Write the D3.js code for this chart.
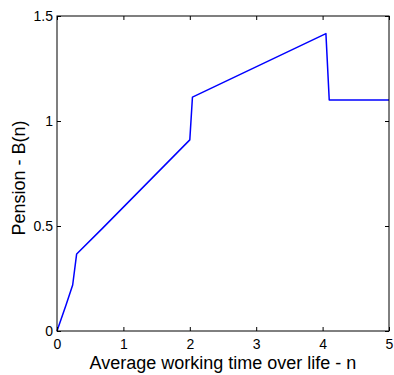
<!DOCTYPE html>
<html>
<head>
<meta charset="utf-8">
<script src="https://cdn.jsdelivr.net/npm/d3@7"></script>
<style>
  html, body { margin: 0; padding: 0; background: #fff; }
  svg { display: block; }
  text { font-family: Arial, "Liberation Sans", sans-serif; fill: #000; }
</style>
</head>
<body>
<svg id="chart" width="394" height="375"></svg>
<script>
// Pension B(n) against average working time over life n
const workTime = [0, 0.136, 0.236, 0.296, 0.673, 2.0, 2.04, 4.05, 4.10, 5];
const pension  = [0, 0.124, 0.219, 0.367, 0.485, 0.91, 1.114, 1.416, 1.10, 1.10];
const xTicks = [0, 1, 2, 3, 4, 5];
const yTicks = [0, 0.5, 1, 1.5];
const xTitle = "Average working time over life - n";
const yTitle = "Pension - B(n)";

(function () {
  const svg = d3.select("#chart");
  const plotL = 57, plotR = 389, plotT = 16, plotB = 331;

  const x = d3.scaleLinear().domain([0, 5]).range([plotL, plotR]);
  const y = d3.scaleLinear().domain([0, 1.5]).range([plotB, plotT]);

  const tickLen = 4;
  const font = "Arial, 'Liberation Sans', sans-serif";

  // Curve
  const line = d3.line().x((d, i) => x(workTime[i])).y(d => y(d));
  svg.append("path")
    .datum(pension)
    .attr("d", line)
    .attr("fill", "none")
    .attr("stroke", "#0000ff")
    .attr("stroke-width", 1.5)
    .attr("stroke-linejoin", "round");

  // Axes with inward ticks
  const fmt = d3.format("~g");
  function styleAxis(g) {
    g.select(".domain").remove();
    g.selectAll(".tick line").attr("stroke", "#000").attr("stroke-width", 1);
  }

  svg.append("g")
    .attr("transform", `translate(0,${plotB})`)
    .call(d3.axisBottom(x).tickValues(xTicks).tickFormat(fmt).tickSizeInner(-tickLen).tickSizeOuter(0).tickPadding(8))
    .call(styleAxis)
    .call(g => g.selectAll("text").attr("font-size", 14).attr("font-family", font));

  svg.append("g")
    .attr("transform", `translate(0,${plotT})`)
    .call(d3.axisTop(x).tickValues(xTicks).tickFormat("").tickSizeInner(-tickLen).tickSizeOuter(0))
    .call(styleAxis);

  svg.append("g")
    .attr("transform", `translate(${plotL},0)`)
    .call(d3.axisLeft(y).tickValues(yTicks).tickFormat(fmt).tickSizeInner(-tickLen).tickSizeOuter(0).tickPadding(4))
    .call(styleAxis)
    .call(g => g.selectAll("text").attr("font-size", 14).attr("font-family", font));

  svg.append("g")
    .attr("transform", `translate(${plotR},0)`)
    .call(d3.axisRight(y).tickValues(yTicks).tickFormat("").tickSizeInner(-tickLen).tickSizeOuter(0))
    .call(styleAxis);

  // Plot frame
  svg.append("rect")
    .attr("x", plotL).attr("y", plotT)
    .attr("width", plotR - plotL).attr("height", plotB - plotT)
    .attr("fill", "none").attr("stroke", "#000").attr("stroke-width", 1);

  // Titles
  svg.append("text")
    .attr("x", (plotL + plotR) / 2).attr("y", 369)
    .attr("text-anchor", "middle").attr("font-size", 18)
    .text(xTitle);

  svg.append("text")
    .attr("transform", `translate(25,178) rotate(-90)`)
    .attr("text-anchor", "middle").attr("font-size", 18)
    .text(yTitle);
})();
</script>
</body>
</html>
